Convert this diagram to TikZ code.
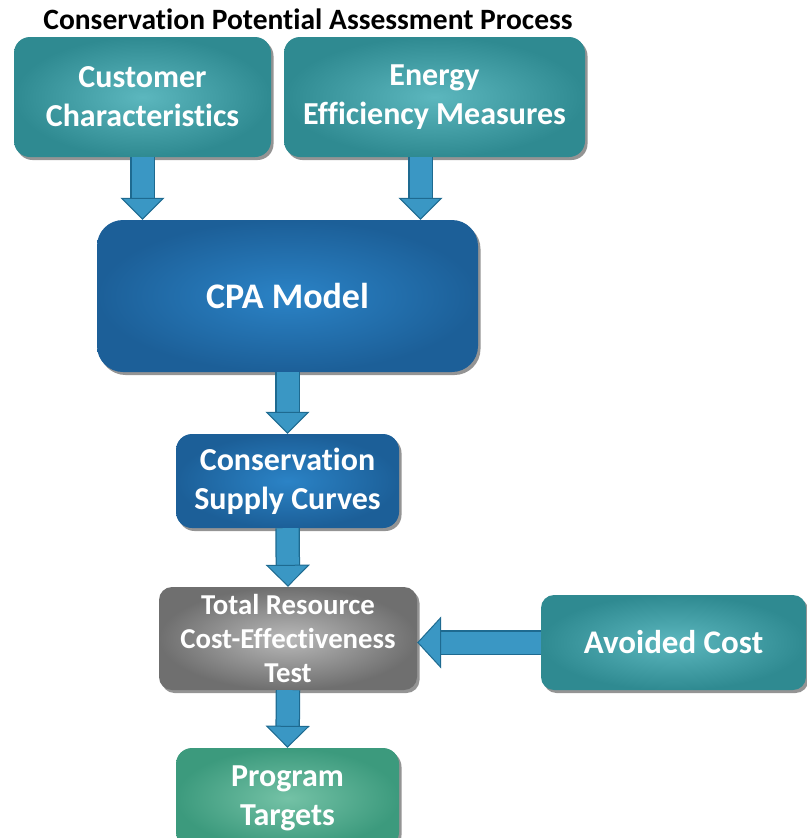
\documentclass[tikz,border=0pt]{standalone}
\usepackage{fontspec}
\setmainfont{Carlito}[Ligatures=NoCommon]
\usepackage{tikz}
\usetikzlibrary{arrows.meta,positioning,calc,shadows}
\definecolor{cpateal}{HTML}{2F8A91}
\definecolor{cpatealclair}{HTML}{5CB7BE}
\definecolor{cpableu}{HTML}{1C5F98}
\definecolor{cpableuclair}{HTML}{2B83C6}
\definecolor{cpagris}{HTML}{6F6F6F}
\definecolor{cpagrisclair}{HTML}{B9B9B9}
\definecolor{cpavert}{HTML}{3C9A7D}
\definecolor{cpavertclair}{HTML}{74C2A6}
\definecolor{flecheclair}{HTML}{3A97C4}
\definecolor{flechefonce}{HTML}{1E6A90}

\begin{document}
\begin{tikzpicture}[
    x=1pt,y=-1pt,
    boite/.style     = {rectangle, rounded corners=16pt, align=center,
                        text=white, font=\fontsize{32}{39}\selectfont\bfseries,
                        drop shadow={shadow xshift=2.5pt,shadow yshift=-3pt,
                                     fill=black!60,opacity=0.7}},
    boiteteal/.style = {boite, inner color=cpatealclair, outer color=cpateal},
    boitebleu/.style = {boite, inner color=cpableuclair, outer color=cpableu},
    boitegris/.style = {boite, inner color=cpagrisclair, outer color=cpagris},
    boitevert/.style = {boite, inner color=cpavertclair, outer color=cpavert},
    fleche/.style    = {draw=flecheclair, line width=22pt,
                        -{Triangle[length=22pt,width=44pt,line width=1pt,
                                   color=flechefonce,fill=flecheclair]},
                        preaction={draw=flechefonce, line width=24.5pt, -,
                                   shorten >=20pt}},
    flechelarge/.style = {fleche, -{Triangle[length=24pt,width=52pt,line width=1pt,
                                   color=flechefonce,fill=flecheclair]}},
  ]
  \useasboundingbox (0,0) rectangle (806,838);

  % ── Titre ───────────────────────────────────────────────────────────────
  \node[font=\fontsize{29.5}{34}\selectfont\bfseries] (titre) at (308,19)
       {Conservation Potential Assessment Process};

  % ── Entrées ─────────────────────────────────────────────────────────────
  \node[boiteteal,minimum width=257pt,minimum height=120pt] (client) at (142.5,97)
       {Customer\\Characteristics};
  \node[boiteteal,minimum width=301pt,minimum height=120pt] (mesures) at (434.5,97)
       {Energy\\Efficiency Measures};

  % ── Modèle et courbes ───────────────────────────────────────────────────
  \node[boitebleu,rounded corners=26pt,minimum width=381pt,minimum height=152pt,
        font=\fontsize{36}{42}\selectfont\bfseries] (modele) at (287.5,296)
       {CPA Model};
  \node[boitebleu,minimum width=223pt,minimum height=94pt] (courbes) at (287.5,481)
       {Conservation\\Supply Curves};

  % ── Test et coût évité ──────────────────────────────────────────────────
  \node[boitegris,rounded corners=13pt,minimum width=258pt,minimum height=103pt,
        font=\fontsize{28.8}{34}\selectfont\bfseries] (test) at (288,638.5)
       {Total Resource\\Cost-Effectiveness\\Test};
  \node[boiteteal,rounded corners=13pt,minimum width=265pt,minimum height=95pt,
        font=\fontsize{33}{39}\selectfont\bfseries] (evite) at (673.5,642.5)
       {Avoided Cost};

  % ── Sortie ──────────────────────────────────────────────────────────────
  \node[boitevert,minimum width=223pt,minimum height=100pt] (cibles) at (287.5,798)
       {Program\\Targets};

  % ── Flèches ─────────────────────────────────────────────────────────────
  \coordinate (mesbas) at ([xshift=-14pt]mesures.south);
  \draw[fleche] (client.south) -- (client.south |- modele.north);
  \draw[fleche] (mesbas) -- (mesbas |- modele.north);
  \draw[fleche] (modele.south) -- (courbes.north);
  \draw[fleche] (courbes.south) -- (test.north);
  \draw[fleche] (test.south) -- (cibles.north);
  \draw[flechelarge] (evite.west) -- (evite.west -| test.east);

\end{tikzpicture}
\end{document}
